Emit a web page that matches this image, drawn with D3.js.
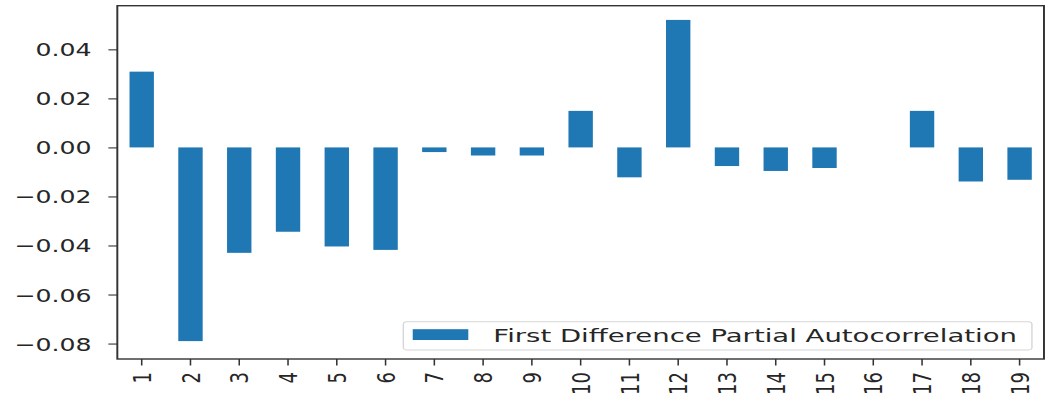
<!DOCTYPE html>
<html>
<head>
<meta charset="utf-8">
<script src="https://cdn.jsdelivr.net/npm/d3@7"></script>
<style>
  html, body { margin: 0; padding: 0; background: #fff; }
  svg { display: block; }
  text { font-family: "DejaVu Sans", sans-serif; fill: #262626; }
</style>
</head>
<body>
<svg id="chart" width="1046" height="396"></svg>
<script>
// Lags and partial autocorrelation of the first-differenced series
const categories = ["1","2","3","4","5","6","7","8","9","10","11","12","13","14","15","16","17","18","19"];
const pacfValues = [0.0309, -0.0790, -0.0430, -0.0344, -0.0404, -0.0418, -0.0019, -0.0033, -0.0033,
                    0.0149, -0.0122, 0.0520, -0.0076, -0.0096, -0.0084, 0.0000, 0.0149, -0.0139, -0.0132];
const yTicks = [-0.08, -0.06, -0.04, -0.02, 0.00, 0.02, 0.04];
const seriesName = "First Difference Partial Autocorrelation";

// The figure is drawn in a narrower frame and stretched horizontally
const KX = 1.4;
const W = 1046 / KX, H = 396;
const plot = { x0: 83.8, x1: 745.7, y0: 5.7, y1: 359 };
const fontSize = 18;

const svg = d3.select("#chart");
const root = svg.append("g").attr("transform", `scale(${KX},1)`);

const x = d3.scaleBand()
  .domain(categories)
  .range([plot.x0, plot.x1])
  .paddingInner(0.5)
  .paddingOuter(0.25);

const y = d3.scaleLinear()
  .domain([-0.0863, 0.0578])
  .range([plot.y1, plot.y0]);

// Bars
root.append("g")
  .selectAll("rect")
  .data(categories.map((c, i) => ({ c, v: pacfValues[i] })))
  .join("rect")
  .attr("x", d => x(d.c))
  .attr("width", x.bandwidth())
  .attr("y", d => y(Math.max(0, d.v)))
  .attr("height", d => Math.abs(y(d.v) - y(0)))
  .attr("fill", "#1f77b4");

// Y axis
const fmt = d3.format(".2f");
const yAxis = d3.axisLeft(y)
  .tickValues(yTicks)
  .tickFormat(d => fmt(d))
  .tickSize(6.4)
  .tickPadding(12);
const gy = root.append("g")
  .attr("transform", `translate(${plot.x0},0)`)
  .call(yAxis);
gy.select(".domain").remove();
gy.selectAll(".tick line").attr("stroke", "#333").attr("stroke-width", 1.1);
gy.selectAll(".tick text")
  .attr("font-size", fontSize)
  .attr("font-family", "DejaVu Sans")
  .attr("fill", "#262626")
  .attr("dy", "0.36em");

// X axis with vertical labels
const xAxis = d3.axisBottom(x).tickSize(6.5).tickPadding(0);
const gx = root.append("g")
  .attr("transform", `translate(0,${plot.y1})`)
  .call(xAxis);
gx.select(".domain").remove();
gx.selectAll(".tick line").attr("stroke", "#333").attr("stroke-width", 1.1);
gx.selectAll(".tick text")
  .attr("font-size", fontSize)
  .attr("font-family", "DejaVu Sans")
  .attr("fill", "#262626")
  .attr("text-anchor", "end")
  .attr("y", 0)
  .attr("dy", "0.36em")
  .attr("transform", "translate(0,13) rotate(-90)");

// Frame
root.append("rect")
  .attr("x", plot.x0)
  .attr("y", plot.y0)
  .attr("width", plot.x1 - plot.x0)
  .attr("height", plot.y1 - plot.y0)
  .attr("fill", "none")
  .attr("stroke", "#333")
  .attr("stroke-width", 1.4);

// Legend (lower right)
const lg = { x0: 288.1, x1: 737.1, y0: 321.7, y1: 350 };
const legend = root.append("g");
legend.append("rect")
  .attr("x", lg.x0)
  .attr("y", lg.y0)
  .attr("width", lg.x1 - lg.x0)
  .attr("height", lg.y1 - lg.y0)
  .attr("rx", 2.5)
  .attr("fill", "#fff")
  .attr("fill-opacity", 0.8)
  .attr("stroke", "#d6d6d6")
  .attr("stroke-width", 1);
legend.append("rect")
  .attr("x", 294.8)
  .attr("y", 329.2)
  .attr("width", 39.7)
  .attr("height", 10.8)
  .attr("fill", "#1f77b4");
legend.append("text")
  .attr("x", 352.4)
  .attr("y", (lg.y0 + lg.y1) / 2)
  .attr("dy", "0.36em")
  .attr("font-size", fontSize)
  .attr("textLength", 374)
  .attr("lengthAdjust", "spacingAndGlyphs")
  .text(seriesName);
</script>
</body>
</html>
